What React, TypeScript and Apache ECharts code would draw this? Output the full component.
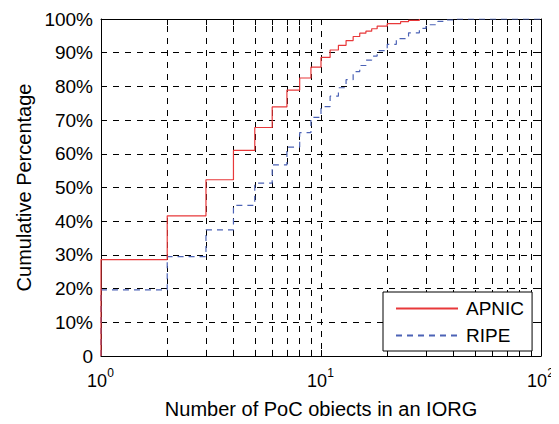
import React, { useEffect, useRef } from "react";
import * as echarts from "echarts";

const apnicX = [1, 1, 2, 3, 4, 5, 6, 7, 8, 9, 10, 11, 12, 13, 14, 15, 16, 17, 18, 20, 23, 25, 28];
const apnicY = [0, 28.6, 41.6, 52.3, 61.0, 67.8, 73.9, 78.9, 82.5, 85.7, 88.6, 90.8, 92.2, 93.6, 94.8, 95.8, 96.4, 97.1, 97.9, 98.6, 99.2, 99.6, 100];

const ripeX = [1, 1, 2, 3, 4, 5, 6, 7, 8, 9, 10, 11, 12, 13, 14, 15, 16, 17, 18, 20, 22, 25, 28, 30, 34, 37, 40, 100];
const ripeY = [0, 19.6, 29.5, 37.4, 44.7, 51.3, 56.7, 62.0, 66.3, 70.8, 74.0, 77.1, 79.6, 82.0, 84.4, 86.2, 87.8, 89.0, 90.6, 92.5, 94.2, 95.9, 97.2, 98.3, 99.3, 99.7, 100, 100];

const minorX = [2, 3, 4, 5, 6, 7, 8, 9, 20, 30, 40, 50, 60, 70, 80, 90];

const FONT = "'Liberation Sans', Arial, sans-serif";

export default function App() {
  const ref = useRef<HTMLDivElement>(null);
  useEffect(() => {
    if (!ref.current) return;
    const chart = echarts.init(ref.current, null, { renderer: "svg" });
    const gridMarks: any[] = minorX.map((v) => [{ coord: [v, 0] }, { coord: [v, 100] }]);
    const tickMarks: any[] = [];
    minorX.forEach((v) => {
      tickMarks.push([{ coord: [v, 0] }, { coord: [v, 1.8] }]);
      tickMarks.push([{ coord: [v, 98.2] }, { coord: [v, 100] }]);
    });
    const logAxisBase = { type: "log", logBase: 10, min: 1, max: 100, gridIndex: 0 };
    const option: any = {
      animation: false,
      textStyle: { fontFamily: FONT },
      grid: { left: 101, right: 18, top: 19, bottom: 63, containLabel: false },
      legend: {
        orient: "vertical",
        left: 383,
        top: 292,
        z: 20,
        data: ["APNIC", "RIPE"],
        backgroundColor: "#fff",
        borderColor: "#000",
        borderWidth: 1,
        padding: [7, 8, 6, 12],
        itemWidth: 62,
        itemHeight: 19,
        itemGap: 8,
        itemStyle: { opacity: 0 },
        textStyle: { fontSize: 19, color: "#000", fontFamily: FONT, padding: [0, 0, 0, 3] },
      },
      xAxis: [
        {
          ...logAxisBase,
          name: "Number of PoC objects in an IORG",
          nameLocation: "middle",
          nameGap: 43,
          nameTextStyle: { fontSize: 20, color: "#000", fontFamily: FONT },
          axisLine: { show: true, lineStyle: { color: "#000", width: 1 } },
          axisTick: { show: true, inside: true, length: 6, lineStyle: { color: "#000" } },
          axisLabel: {
            margin: 16,
            fontSize: 18,
            color: "#000",
            fontFamily: FONT,
            padding: [0, 8, 0, 0],
            formatter: () => "10",
          },
          splitLine: { show: true, lineStyle: { color: "#000", type: [6, 6], width: 1 } },
        },
        {
          ...logAxisBase,
          position: "top",
          axisLine: { show: true, onZero: false, lineStyle: { color: "#000", width: 1 } },
          axisTick: { show: true, inside: true, length: 6, lineStyle: { color: "#000" } },
          axisLabel: { show: false },
          splitLine: { show: false },
        },
        {
          ...logAxisBase,
          position: "bottom",
          axisLine: { show: false, onZero: false },
          axisTick: { show: false },
          axisLabel: {
            margin: 11,
            fontSize: 12,
            color: "#000",
            fontFamily: FONT,
            padding: [0, 0, 0, 19],
            formatter: (v: number) => String(Math.round(Math.log10(v))),
          },
          splitLine: { show: false },
        },
      ],
      yAxis: [
        {
          type: "value",
          min: 0,
          max: 100,
          interval: 10,
          name: "Cumulative Percentage",
          nameLocation: "middle",
          nameGap: 66,
          nameTextStyle: { fontSize: 20, color: "#000", fontFamily: FONT },
          axisLine: { show: true, lineStyle: { color: "#000", width: 1 } },
          axisTick: { show: true, inside: true, length: 6, lineStyle: { color: "#000" } },
          axisLabel: {
            fontSize: 19,
            color: "#000",
            fontFamily: FONT,
            margin: 8,
            formatter: (v: number) => (v === 0 ? "0" : `${v}%`),
          },
          splitLine: { show: true, lineStyle: { color: "#000", type: [6, 6], width: 1 } },
        },
        {
          type: "value",
          min: 0,
          max: 100,
          interval: 10,
          position: "right",
          axisLine: { show: true, onZero: false, lineStyle: { color: "#000", width: 1 } },
          axisTick: { show: true, inside: true, length: 6, lineStyle: { color: "#000" } },
          axisLabel: { show: false },
          splitLine: { show: false },
        },
      ],
      series: [
        {
          name: "grid",
          type: "line",
          data: [],
          silent: true,
          z: 1,
          markLine: {
            silent: true,
            z: 1,
            symbol: "none",
            label: { show: false },
            lineStyle: { color: "#000", type: [6, 6], width: 1 },
            data: gridMarks,
          },
        },
        {
          name: "ticks",
          type: "line",
          data: [],
          silent: true,
          z: 1,
          markLine: {
            silent: true,
            z: 1,
            symbol: "none",
            label: { show: false },
            lineStyle: { color: "#000", type: "solid", width: 1 },
            data: tickMarks,
          },
        },
        {
          name: "APNIC",
          type: "line",
          step: "end",
          symbol: "none",
          z: 3,
          color: "#e8383a",
          lineStyle: { color: "#e8383a", width: 1.2, type: "solid" },
          data: apnicX.map((x, i) => [x, apnicY[i]]),
        },
        {
          name: "RIPE",
          type: "line",
          step: "end",
          symbol: "none",
          z: 2,
          color: "#4c63b6",
          lineStyle: { color: "#4c63b6", width: 1.2, type: [6, 5] },
          data: ripeX.map((x, i) => [x, ripeY[i]]),
        },
      ],
    };
    chart.setOption(option);
    return () => chart.dispose();
  }, []);
  return <div ref={ref} style={{ width: 559, height: 424, margin: -8 }} />;
}
